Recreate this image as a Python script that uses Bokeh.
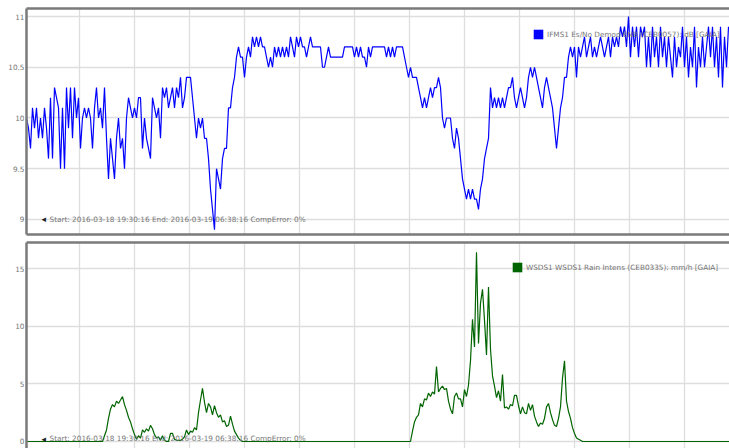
from bokeh.plotting import figure
from bokeh.layouts import column
from bokeh.models import (Range1d, FixedTicker, LinearAxis, Label, Legend, LegendItem,
                          CustomJSTickFormatter)
from bokeh.embed import file_html
from bokeh.resources import INLINE

# ---------------- data ----------------
# Es/No (dB), one reading every 2 minutes after 2016-03-18 19:30:16
esno_values = [
    10.0, 9.9, 9.7, 10.1, 9.9, 10.1, 9.8, 10.0, 9.8, 10.1,
    9.9, 9.6, 10.2, 9.6, 10.3, 10.2, 10.1, 9.5, 10.1, 9.5,
    10.3, 9.9, 10.3, 9.8, 10.3, 10.0, 10.2, 9.7, 10.0, 10.1, 10.0,
    10.1, 10.0, 9.7, 10.1, 10.3, 10.0, 10.1, 9.9, 10.3, 9.8,
    9.4, 9.8, 9.6, 9.4, 9.8, 10.0, 9.7, 9.8, 9.5, 10.0,
    10.2, 10.1, 10.0, 10.1, 10.0, 10.2, 10.2, 9.7, 10.0, 9.8,
    9.7, 9.6, 10.2, 10.1, 10.0, 10.1, 9.8, 10.3, 10.2, 10.3,
    10.1, 10.2, 10.3, 10.1, 10.3, 10.2, 10.4, 10.1, 10.2, 10.4,
    10.4, 10.4, 10.2, 10.0, 9.8, 10.0, 9.9, 10.0, 9.8, 9.8,
    9.6, 9.3, 9.1, 8.9, 9.5, 9.4, 9.3, 9.6, 9.7, 9.7,
    10.1, 10.1, 10.3, 10.4, 10.6, 10.7, 10.6, 10.6, 10.4, 10.6,
    10.7, 10.6, 10.8, 10.7, 10.8, 10.7, 10.8, 10.7, 10.7,
    10.6, 10.5, 10.6, 10.5, 10.7, 10.6, 10.7, 10.6, 10.7, 10.6,
    10.7, 10.6, 10.8, 10.7, 10.6, 10.8, 10.7, 10.8, 10.7, 10.7,
    10.6, 10.7, 10.8, 10.7, 10.7, 10.7, 10.7, 10.7, 10.5, 10.5,
    10.6, 10.7, 10.6, 10.6, 10.6, 10.6, 10.6, 10.6, 10.6, 10.7,
    10.7, 10.7, 10.7, 10.7, 10.6, 10.7, 10.6, 10.7, 10.6, 10.6,
    10.5, 10.7, 10.6, 10.7, 10.7, 10.7, 10.7, 10.7, 10.7, 10.7,
    10.6, 10.7, 10.6, 10.7, 10.6, 10.7, 10.7, 10.7, 10.7, 10.6,
    10.5, 10.4, 10.5, 10.4, 10.4, 10.4, 10.3, 10.2, 10.1, 10.2,
    10.1, 10.2, 10.3, 10.2, 10.3, 10.3, 10.4, 10.3, 10.0, 9.9,
    10.0, 10.0, 10.0, 9.8, 9.7, 9.9, 9.8, 9.6, 9.4, 9.3,
    9.2, 9.3, 9.2, 9.3, 9.2, 9.2, 9.1, 9.3, 9.4, 9.6,
    9.7, 9.8, 10.3, 10.1, 10.2,
    10.1, 10.2, 10.1, 10.2, 10.1,
    10.2, 10.3, 10.3, 10.4, 10.2, 10.1, 10.2, 10.3, 10.2, 10.1,
    10.2, 10.4, 10.5, 10.4, 10.5, 10.4, 10.3, 10.2, 10.1, 10.3,
    10.4, 10.3, 10.2, 10.1, 9.9, 9.7, 9.9, 10.1, 10.2, 10.4,
    10.4, 10.6, 10.7, 10.6, 10.7, 10.4, 10.7, 10.6, 10.7, 10.8,
    10.6, 10.7, 10.8, 10.6, 10.7, 10.6, 10.7, 10.8, 10.7, 10.6,
    10.7, 10.8, 10.6, 10.8, 10.7, 10.8, 10.7, 10.9, 10.8, 10.9,
    10.7, 11.0, 10.6, 10.9, 10.7, 10.9, 10.6, 10.9, 10.8, 10.9,
    10.5, 10.8, 10.5, 10.9, 10.6, 10.8, 10.5, 10.9, 10.6, 10.8,
    10.5, 10.8, 10.6, 10.4, 10.8, 10.5, 10.7, 10.6, 10.9, 10.5,
    10.8, 10.4, 10.7, 10.5, 10.9, 10.3, 10.7, 10.5, 10.8, 10.5,
    10.7, 10.9, 10.6, 10.9, 10.5, 10.8, 10.4, 10.9, 10.3, 10.8,
    10.5, 10.9,
]
esno_minutes = list(range(0, 2 * len(esno_values), 2))

# Rain intensity (mm/h)
rain_burst1 = [
    0.5, 1.0, 2.0, 2.8, 3.2, 3.0, 3.5, 3.3, 3.6, 3.9,
    3.2, 2.7, 2.1, 1.7, 1.1, 0.6, 0.2, 0.5, 0.3, 1.0,
    0.8, 1.1, 0.9, 1.4, 1.1, 0.6, 0.3, 0.4, 0.1, 0.5,
    0.1, 0.0, 0.0, 0.7, 0.7, 0.2, 0.1, 0.1, 0.1, 0.2,
    0.4, 1.0, 0.6, 0.9, 0.8, 1.2, 1.0, 2.5, 3.6, 4.6,
    3.4, 2.5, 3.3, 3.0, 2.3, 3.1, 2.5, 2.1, 2.3, 1.7,
    1.8, 1.3, 1.4, 2.2, 1.5, 0.9, 0.6, 0.3, 0.1, 0.0,
]
rain_burst2 = [
    0.9, 1.7, 2.1, 2.3, 3.3, 3.0, 3.7, 3.6, 4.2, 3.9,
    4.3, 4.1, 6.5, 4.3, 4.6, 4.8, 4.5, 4.6, 3.5, 2.8,
    2.4, 3.9, 4.2, 3.7, 3.7, 3.0, 4.5, 3.9, 4.9, 7.0,
    10.6, 8.2, 16.4, 8.5, 12.0, 13.2, 10.5, 7.5, 13.4, 8.0,
    5.7, 4.8, 3.8, 4.4, 3.5, 5.8, 2.9, 3.0, 2.8, 3.2,
    3.1, 4.0, 4.0, 3.1, 2.4, 3.0, 2.5, 2.4, 3.3, 2.7,
    3.2, 2.2, 1.7, 1.3, 1.6, 1.5, 2.0, 3.0, 3.3, 2.5,
    1.9, 1.4, 1.3, 2.0, 3.0, 5.5, 7.0, 3.5, 2.6, 2.0,
    1.2, 0.7, 0.3, 0.2, 0.1, 0.0,
]
rain_minutes = ([0, 76] + list(range(78, 78 + 2 * len(rain_burst1), 2))
                + [384] + list(range(386, 386 + 2 * len(rain_burst2), 2)) + [710])
rain_values = [0.0, 0.0] + rain_burst1 + [0.0] + rain_burst2 + [0.0]

esno_ticks = [9, 9.5, 10, 10.5, 11]
rain_ticks = [0, 5, 10, 15]
info_text = "Start: 2016-03-18 19:30:16 End: 2016-03-19 06:38:16 CompError: 0%"
esno_name = "IFMS1 Es/No Demod ENB (CEB0057): dB [GAIA]"
rain_name = "WSDS1 WSDS1 Rain Intens (CEB0335): mm/h [GAIA]"

# ---------------- style ----------------
FONT = "DejaVu Sans"
FS = "7.3px"
TXT = "#777777"
BORDER = "#7a7a7a"
GRIDC = "#dedede"
GRID_X = [52.7 + 55 * k for k in range(13)]


def border_axis(ax):
    ax.axis_line_color = BORDER
    ax.axis_line_width = 2.5
    ax.major_tick_out = 0
    ax.major_tick_in = 0
    ax.minor_tick_out = 0
    ax.minor_tick_in = 0


def setup(p, yticks):
    p.outline_line_color = None
    p.background_fill_color = "white"
    p.border_fill_color = "white"
    yax = p.yaxis[0]
    yax.ticker = FixedTicker(ticks=yticks)
    yax.formatter = CustomJSTickFormatter(code="return tick.toString();")
    border_axis(yax)
    yax.major_label_text_font = FONT
    yax.major_label_text_font_size = FS
    yax.major_label_text_color = TXT
    yax.major_label_standoff = 2
    xax = p.xaxis[0]
    xax.ticker = FixedTicker(ticks=[])
    border_axis(xax)
    xax.major_label_standoff = 0
    p.xgrid.ticker = FixedTicker(ticks=GRID_X)
    p.xgrid.grid_line_color = GRIDC
    p.xgrid.grid_line_width = 1.3
    p.ygrid.grid_line_color = GRIDC
    p.ygrid.grid_line_width = 1.3


# ---------------- top panel ----------------
p1 = figure(width=729, height=237, x_range=Range1d(0, 703), y_range=Range1d(8.852, 11.079),
            output_backend="svg", toolbar_location=None, x_axis_location="below",
            min_border_left=26, min_border_right=0, min_border_top=8, min_border_bottom=3)
setup(p1, esno_ticks)
xa = LinearAxis(ticker=FixedTicker(ticks=[]))
border_axis(xa)
xa.major_label_standoff = 0
p1.add_layout(xa, "above")

p1.line(esno_minutes, esno_values, line_color="#0000ff", line_width=1.2)
key1 = p1.varea(x=esno_minutes, y1=esno_values, y2=esno_values, fill_color="#0000ff")
leg1 = Legend(items=[LegendItem(label=esno_name, renderers=[key1])], location=(506, 194),
              padding=0, margin=0, spacing=0, glyph_width=12, glyph_height=12, label_height=12,
              label_standoff=3, label_text_font=FONT, label_text_font_size=FS,
              label_text_color=TXT, background_fill_alpha=0, border_line_color=None)
p1.add_layout(leg1)
p1.add_layout(Label(x=15, y=9.0, text="\u25c2", text_font=FONT, text_font_size="9px",
                    text_color="#222222", text_baseline="middle"))
p1.add_layout(Label(x=23, y=9.0, text=info_text, text_font=FONT, text_font_size=FS,
                    text_color=TXT, text_baseline="middle"))

# ---------------- bottom panel ----------------
p2 = figure(width=729, height=211, x_range=p1.x_range, y_range=Range1d(-0.607, 17.255),
            output_backend="svg", toolbar_location=None, x_axis_location="above",
            min_border_left=26, min_border_right=0, min_border_top=5, min_border_bottom=0)
setup(p2, rain_ticks)

p2.line(rain_minutes, rain_values, line_color="#006400", line_width=1.2)
key2 = p2.varea(x=rain_minutes, y1=rain_values, y2=rain_values, fill_color="#006400")
leg2 = Legend(items=[LegendItem(label=rain_name, renderers=[key2])], location=(485, 175),
              padding=0, margin=0, spacing=0, glyph_width=12, glyph_height=12, label_height=12,
              label_standoff=3, label_text_font=FONT, label_text_font_size=FS,
              label_text_color=TXT, background_fill_alpha=0, border_line_color=None)
p2.add_layout(leg2)
p2.add_layout(Label(x=15, y=0.26, text="\u25c2", text_font=FONT, text_font_size="9px",
                    text_color="#222222", text_baseline="middle"))
p2.add_layout(Label(x=23, y=0.26, text=info_text, text_font=FONT, text_font_size=FS,
                    text_color=TXT, text_baseline="middle"))

layout = column(p1, p2)
open("out.html", "w").write(file_html(layout, INLINE))
